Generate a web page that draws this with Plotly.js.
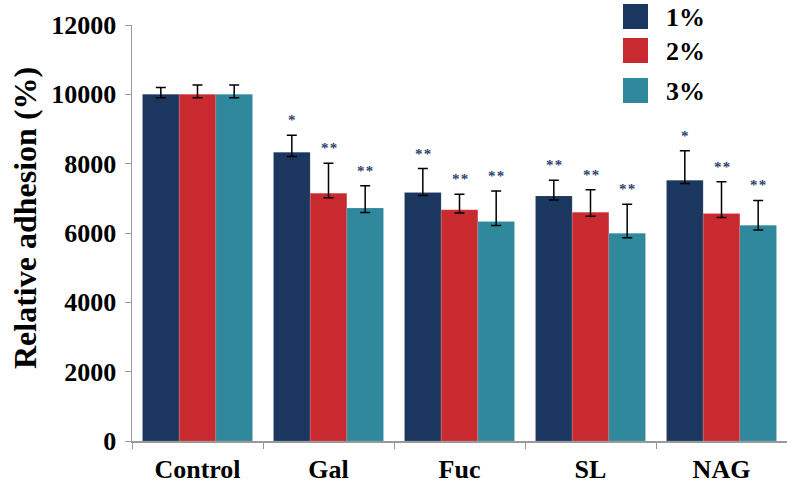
<!DOCTYPE html>
<html>
<head>
<meta charset="utf-8">
<script src="https://cdn.plot.ly/plotly-3.0.1.min.js"></script>
<style>html,body{margin:0;padding:0;background:#fff;}#chart{width:787px;height:484px;}</style>
</head>
<body>
<div id="chart"></div>
<script>
// ---- data ----
const categories = ['Control', 'Gal', 'Fuc', 'SL', 'NAG'];
const seriesNames = ['1%', '2%', '3%'];
const values1 = [10000, 8330, 7170, 7070, 7520];
const values2 = [10000, 7150, 6670, 6600, 6560];
const values3 = [10000, 6720, 6330, 5990, 6220];
const errPlus1 = [200, 490, 690, 450, 850];
const errPlus2 = [270, 860, 450, 650, 915];
const errPlus3 = [270, 640, 885, 840, 720];
const errMinus1 = [100, 120, 90, 115, 90];
const errMinus2 = [100, 130, 90, 115, 115];
const errMinus3 = [100, 130, 115, 125, 135];
const sig1 = ['', '*', '**', '**', '*'];
const sig2 = ['', '**', '**', '**', '**'];
const sig3 = ['', '**', '**', '**', '**'];
const yTickVals = [0, 2000, 4000, 6000, 8000, 10000, 12000];
const yTitle = 'Relative adhesion (%)';

// ---- style ----
const colors = ['#1b375f', '#c92a30', '#2f889c'];
const W = 787, H = 484;
const margin = {l: 132, r: 0, t: 25, b: 43};
const plotW = W - margin.l - margin.r, plotH = H - margin.t - margin.b;
const bargap = 0.16;
const font = 'Liberation Serif';

const vals = [values1, values2, values3];
const ep = [errPlus1, errPlus2, errPlus3];
const em = [errMinus1, errMinus2, errMinus3];
const sigs = [sig1, sig2, sig3];

const traces = vals.map((v, i) => ({
  type: 'bar', x: categories, y: v, name: seriesNames[i],
  marker: {color: colors[i], line: {color: 'rgba(255,255,255,0.25)', width: 0.5}},
  error_y: {type: 'data', symmetric: false, array: ep[i], arrayminus: em[i],
            color: '#000', thickness: 1.5, width: 5},
  showlegend: false
}));

const catW = plotW / categories.length;
const barW = catW * (1 - bargap) / 3;
const px = x => (x - margin.l) / plotW;
const py = y => 1 - (y - margin.t) / plotH;

const annotations = [];
sigs.forEach((s, i) => {
  s.forEach((t, j) => {
    if (!t) return;
    annotations.push({
      x: categories[j], y: vals[i][j] + ep[i][j], xref: 'x', yref: 'y',
      text: '<b>' + t.split('').join('&#8202;') + '</b>', showarrow: false,
      xshift: (i - 1) * barW, yshift: 5,
      yanchor: 'bottom', font: {family: font, size: 15, color: '#2c4570'}
    });
  });
});

// y title as rotated annotation
annotations.push({xref: 'paper', yref: 'paper', x: px(25), y: py(218),
  xanchor: 'center', yanchor: 'middle', textangle: -90, showarrow: false,
  text: '<b>' + yTitle + '</b>', font: {family: font, size: 32, color: '#000'}});

// custom legend
const shapes = [];
const legTop = [4, 38, 78];
seriesNames.forEach((n, i) => {
  shapes.push({type: 'rect', xref: 'paper', yref: 'paper',
    x0: px(623), x1: px(648), y0: py(legTop[i] + 25), y1: py(legTop[i]),
    fillcolor: colors[i], line: {width: 0}});
  annotations.push({xref: 'paper', yref: 'paper', x: px(664), y: py(legTop[i] + 13),
    xanchor: 'left', yanchor: 'middle', text: '<b>' + n + '</b>', showarrow: false,
    font: {family: font, size: 26, color: '#000'}});
});

const layout = {
  width: W, height: H, margin: margin,
  paper_bgcolor: '#fff', plot_bgcolor: '#fff',
  barmode: 'group', bargap: bargap, bargroupgap: 0,
  showlegend: false,
  font: {family: font, color: '#000'},
  xaxis: {
    type: 'category', showline: true, linecolor: '#999', linewidth: 1.5,
    ticks: 'outside', tickson: 'boundaries', ticklen: 6, tickcolor: '#999',
    tickfont: {family: font, size: 26, color: '#000', weight: 'bold'},
    ticklabelstandoff: 4,
    showgrid: false, zeroline: false, range: [-0.5, 4.5]
  },
  yaxis: {
    range: [0, 12000], tickvals: yTickVals, ticktext: yTickVals.map(String),
    showline: true, linecolor: '#999', linewidth: 1.5,
    ticks: 'outside', ticklen: 6, tickcolor: '#999',
    tickfont: {family: font, size: 26, color: '#000', weight: 'bold'},
    ticklabelstandoff: 3,
    showgrid: false, zeroline: false
  },
  annotations: annotations, shapes: shapes
};

Plotly.newPlot('chart', traces, layout, {displayModeBar: false, staticPlot: true});
</script>
</body>
</html>
